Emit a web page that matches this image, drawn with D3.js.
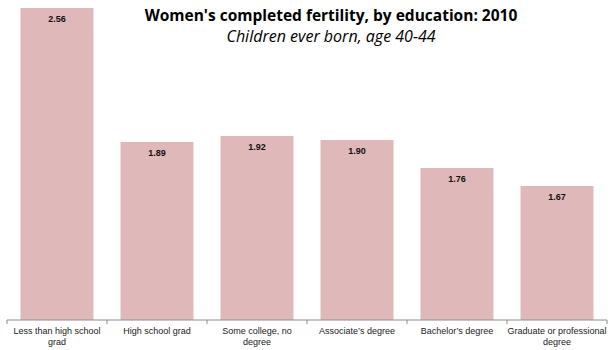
<!DOCTYPE html>
<html>
<head>
<meta charset="utf-8">
<script src="https://cdn.jsdelivr.net/npm/d3@7"></script>
<style>
  body { margin: 0; background: #fff; }
  svg { display: block; }
</style>
</head>
<body>
<svg id="drawing_region"></svg>
<script>
// categories, values and the wrapped tick labels
const categories = ["Less than high school grad", "High school grad", "Some college, no degree",
                    "Associate's degree", "Bachelor's degree", "Graduate or professional degree"];
const values = [2.56, 1.89, 1.92, 1.90, 1.76, 1.67];
const tickLines = [["Less than high school", "grad"], ["High school grad"], ["Some college, no", "degree"],
                   ["Associate\u2019s degree"], ["Bachelor\u2019s degree"], ["Graduate or professional", "degree"]];

const data = categories.map((c, i) => ({label: c, value: values[i], lines: tickLines[i]}));

const config = {
    width: 615,
    height: 350,
    margin: {top: 0, right: 8, bottom: 30, left: 7}
};

const svg = d3.select('#drawing_region')
    .attr('width', config.width)
    .attr('height', config.height);

const inner_width = config.width - config.margin.left - config.margin.right;
const inner_height = config.height - config.margin.top - config.margin.bottom;

const chart = svg.append('g')
    .attr('transform', `translate(${config.margin.left}, ${config.margin.top})`);

const xscale = d3.scaleBand()
    .domain(data.map(d => d.label))
    .range([0, inner_width])
    .paddingInner(0.27)
    .paddingOuter(0.135);

const yscale = d3.scaleLinear()
    .domain([1, 2.6])
    .range([inner_height, 0]);

chart.selectAll('rect')
    .data(data)
    .join('rect')
    .attr('x', d => xscale(d.label))
    .attr('y', d => yscale(d.value))
    .attr('width', xscale.bandwidth())
    .attr('height', d => inner_height - yscale(d.value))
    .attr('fill', '#dfb9b9');

chart.selectAll('.value')
    .data(data)
    .join('text')
    .attr('class', 'value')
    .attr('x', d => xscale(d.label) + xscale.bandwidth() / 2)
    .attr('y', d => yscale(d.value) + 14)
    .attr('text-anchor', 'middle')
    .attr('font-family', 'Liberation Sans, Arial, sans-serif')
    .attr('font-size', '9px')
    .attr('font-weight', 'bold')
    .attr('fill', '#111')
    .text(d => d.value.toFixed(2));

// category axis: ticks sit on the band boundaries, like the original
const bounds = d3.range(data.length + 1).map(i => i * inner_width / data.length);

const axis = chart.append('g')
    .attr('transform', `translate(0, ${inner_height})`);

axis.append('line')
    .attr('x1', 0).attr('x2', inner_width)
    .attr('stroke', '#8c8c8c');

axis.selectAll('.tick')
    .data(bounds)
    .join('line')
    .attr('class', 'tick')
    .attr('x1', d => d).attr('x2', d => d)
    .attr('y1', 0).attr('y2', 4)
    .attr('stroke', '#8c8c8c');

const labels = axis.selectAll('.cat')
    .data(data)
    .join('text')
    .attr('class', 'cat')
    .attr('x', d => xscale(d.label) + xscale.bandwidth() / 2)
    .attr('y', 14)
    .attr('text-anchor', 'middle')
    .attr('font-family', 'Liberation Sans, Arial, sans-serif')
    .attr('font-size', '9px')
    .attr('fill', '#222');

labels.selectAll('tspan')
    .data(d => d.lines)
    .join('tspan')
    .attr('x', function() { return this.parentNode.getAttribute('x'); })
    .attr('dy', (d, i) => i === 0 ? 0 : 10.7)
    .text(d => d);

svg.append('text')
    .attr('x', 331)
    .attr('y', 20.5)
    .attr('text-anchor', 'middle')
    .attr('font-family', 'Open Sans, sans-serif')
    .attr('font-size', '15.5px')
    .attr('font-weight', 'bold')
    .attr('fill', '#000')
    .text("Women's completed fertility, by education: 2010");

svg.append('text')
    .attr('x', 331)
    .attr('y', 42)
    .attr('text-anchor', 'middle')
    .attr('font-family', 'Open Sans, sans-serif')
    .attr('font-size', '16px')
    .attr('font-style', 'italic')
    .attr('fill', '#000')
    .text("Children ever born, age 40-44");
</script>
</body>
</html>
